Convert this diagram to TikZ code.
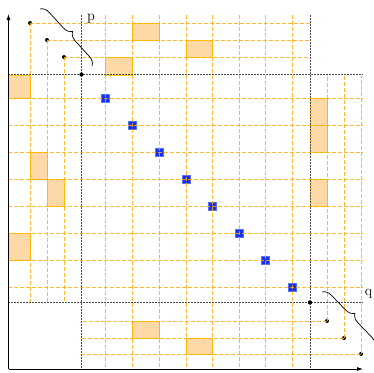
\documentclass[tikz,border=0pt]{standalone}
\usetikzlibrary{arrows.meta,decorations.pathreplacing}
\definecolor{gridor}{RGB}{255,172,10}
\definecolor{cellfill}{RGB}{255,216,168}
\definecolor{cellline}{RGB}{255,200,0}
\definecolor{pivblue}{RGB}{20,50,240}
\tikzset{
  gridline/.style={draw=gridor, line width=0.8pt, dash pattern=on 4pt off 2pt, opacity=0.85},
  sepline/.style={draw=black!70, line width=0.8pt, dash pattern=on 2pt off 1pt},
  cell/.style={fill=cellfill, draw=cellline, line width=0.8pt},
  pivot/.style={fill=pivblue, draw=pivblue!70, inner sep=0pt, minimum size=8pt, line width=0.5pt},
  dot/.style={circle, fill=black, inner sep=0pt, minimum size=4pt},
  axis/.style={draw=black, line width=0.8pt, -{Latex[length=6pt,width=4pt]}},
  bracesty/.style={draw=black, line width=0.7pt, decorate, decoration={brace, amplitude=9pt}},
  lbl/.style={font=\Large, inner sep=1pt},
}
\begin{document}
\begin{tikzpicture}[x=1pt,y=-1pt]
\useasboundingbox (0,0) rectangle (374,372);
% cells
\foreach \a/\b/\c/\d in {8/75/30/98, 30/152/47/179, 47/179/64/206, 8/233/30/260,
  310/98/327/125, 310/125/327/152, 310/179/327/206,
  105/57/132.5/75, 132.5/23/159/40, 186/40/212.5/57,
  132.5/321/159/338, 186/338/212.5/354}
  \path[cell] (\a,\b) rectangle (\c,\d);
% pivots
\foreach \x/\y [count=\i] in {105/98, 132.5/125, 159/152, 186/179, 212.5/206, 239.5/233, 265.5/260, 292/287}
  \node[pivot] (b\i) at (\x,\y) {};
% corner and point dots
\node[dot] (c1) at (81.5,74.5) {};
\node[dot] (c2) at (310,302.5) {};
\node[dot] (p1) at (30,23) {};
\node[dot] (p2) at (47,40) {};
\node[dot] (p3) at (64,57) {};
\node[dot] (q1) at (327,321) {};
\node[dot] (q2) at (344,338) {};
\node[dot] (q3) at (361,354) {};
% middle grid
\foreach \x in {105,132.5,159,186,212.5,239.5,265.5,292}
  \draw[gridline] (\x,15) -- (\x,369);
\foreach \y in {98,125,152,179,206,233,260,287}
  \draw[gridline] (8,\y) -- (363,\y);
% p lines
\foreach \i in {1,2,3} {
  \draw[gridline] (p\i.center) -- (p\i.center -| c2);
  \draw[gridline] (p\i.center) -- (p\i.center |- c2);
}
% q lines
\foreach \i in {1,2,3} {
  \draw[gridline] (q\i.center) -- (q\i.center |- c1);
  \draw[gridline] (q\i.center) -- (q\i.center -| c1);
}
% separators
\coordinate (t1) at (81.5,15);
\coordinate (t2) at (310,15);
\coordinate (l1) at (8,74.5);
\coordinate (l2) at (8,302.5);
\coordinate (r1) at (363,74.5);
\coordinate (r2) at (363,302.5);
\coordinate (o) at (8.5,369);
\coordinate (ytip) at (8.5,14);
\coordinate (xtip) at (363,369);
\draw[sepline] (t1) -- (t1 |- o);
\draw[sepline] (t2) -- (t2 |- o);
\draw[sepline] (l1) -- (r1);
\draw[sepline] (l2) -- (r2);
\node[dot] at (c1) {};
\node[dot] at (c2) {};
% axes
\draw[axis] (o) -- (ytip);
\draw[axis] (o) -- (xtip);
% braces
\coordinate (pb1) at (40,9);
\coordinate (pb2) at (92,66);
\draw[bracesty] (pb1) -- (pb2);
\node[lbl] (plabel) at (91,19) {p};
\coordinate (qb1) at (322,292);
\coordinate (qb2) at (375,347);
\draw[bracesty] (qb1) -- (qb2);
\node[lbl] (qlabel) at (368.5,294) {q};
\end{tikzpicture}
\end{document}
